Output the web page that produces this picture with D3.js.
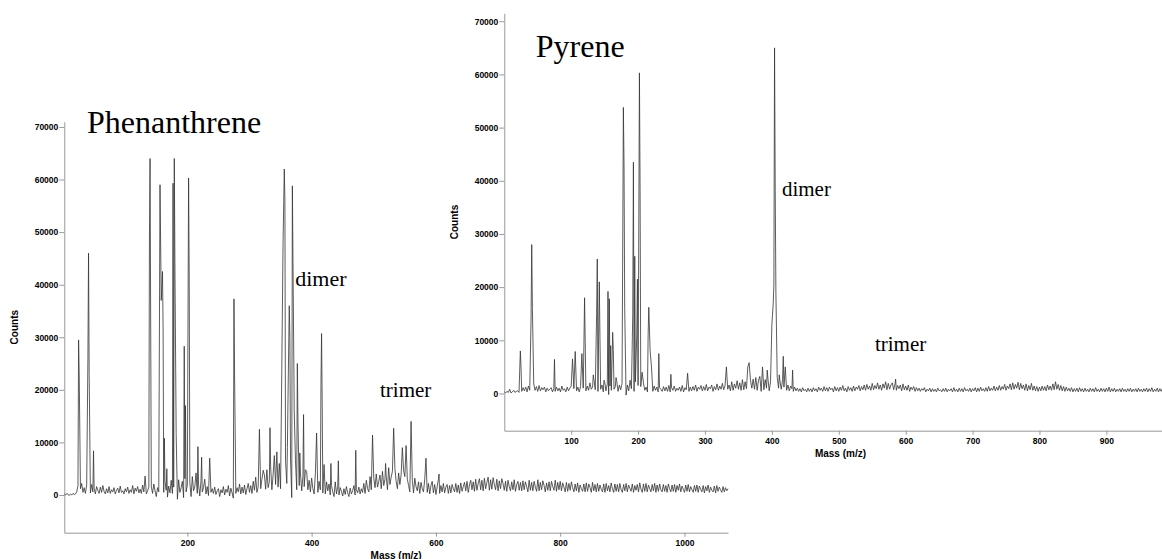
<!DOCTYPE html>
<html>
<head>
<meta charset="utf-8">
<script src="https://cdn.jsdelivr.net/npm/d3@7"></script>
<style>
  body { margin: 0; background: #fff; }
  .axis path, .axis line { stroke: #999; }
  .axis text { font-family: "Liberation Sans", Arial, sans-serif; font-size: 8.5px; font-weight: bold; fill: #000; }
  .atitle { font-family: "Liberation Sans", Arial, sans-serif; font-size: 10px; font-weight: bold; }
  .label { font-family: "Liberation Serif", "Times New Roman", serif; fill: #000; }
</style>
</head>
<body>
<div class="canva"></div>
<script>
// baseline points every 2 mass units, counts in thousands
const baseStep = 2;

// Phenanthrene, baseline starts at m/z 2
const phenStart = 2;
const phenBase = [
  0.2,0.0,0.3,0.1,-0.1,0.2,0.0,0.3,0.1,0.2,
  0.6,1.8,0.4,1.2,2.2,0.5,1.4,0.3,1.9,0.8,
  1.1,0.4,2.0,0.6,1.3,0.2,1.6,0.9,0.3,1.5,
  0.5,1.8,0.7,0.2,1.2,0.4,1.6,0.3,1.0,0.6,
  1.4,0.2,0.9,1.3,0.4,1.7,0.5,0.8,0.2,1.2,
  0.6,1.5,0.3,1.0,0.5,1.8,0.2,1.3,0.7,1.6,
  0.4,1.1,0.3,1.9,0.6,1.2,0.2,0.8,1.5,0.4,
  1.6,0.3,2.1,0.8,-0.3,1.4,0.6,2.4,-0.2,1.8,
  0.5,2.6,0.9,-0.4,1.7,0.4,2.8,0.3,1.5,0.7,
  2.2,-0.8,2.9,0.5,1.4,2.6,-0.5,3.1,0.6,1.9,
  0.2,2.4,-0.3,3.5,0.8,1.6,4.2,0.3,2.1,-0.2,
  2.8,0.6,1.4,3.0,0.2,1.6,-0.1,2.2,0.5,1.2,
  0.3,1.5,0.1,0.8,1.2,-0.3,1.0,0.4,1.6,0.0,
  1.1,0.5,1.8,-0.2,1.3,0.4,-0.6,2.0,0.3,1.4,
  0.6,2.1,0.2,1.5,0.4,1.9,0.1,1.2,2.2,0.5,
  1.8,0.3,2.6,0.9,3.4,0.5,1.6,4.5,1.2,3.0,
  0.8,3.8,1.1,4.8,1.4,2.6,5.5,1.0,3.8,7.5,
  2.0,5.2,1.5,6.0,1.2,4.4,8.2,3.0,6.5,2.2,
  9.0,2.5,7.0,-0.5,5.5,2.4,6.5,1.0,5.0,1.8,
  4.2,0.8,3.5,1.6,0.4,4.5,1.0,2.8,0.6,3.2,
  1.2,0.2,4.0,1.5,0.5,2.6,1.0,3.0,0.4,2.2,
  0.2,2.5,0.8,2.1,0.0,1.8,0.6,-0.3,2.5,0.2,
  1.6,0.0,1.4,0.7,-0.2,1.2,0.1,1.6,0.4,-0.3,
  1.3,0.2,0.8,1.8,0.0,1.0,0.4,1.5,0.2,1.2,
  0.5,2.2,0.3,2.8,1.2,0.6,3.5,1.0,2.4,3.2,
  1.4,4.0,1.5,2.6,3.8,1.2,4.5,1.8,3.0,3.6,
  1.0,5.2,2.0,3.4,4.5,1.5,5.0,2.6,1.2,4.2,
  2.0,3.8,1.0,4.6,3.5,0.8,3.0,1.8,0.6,3.2,
  2.8,0.4,3.2,1.6,0.8,2.5,0.3,2.4,1.2,0.6,
  3.0,1.4,0.5,2.2,0.2,1.8,2.6,0.4,2.0,0.1,
  1.6,3.0,0.3,1.8,0.6,2.2,0.4,1.5,2.0,0.3,
  1.8,0.4,2.0,1.2,0.6,2.2,0.5,1.9,0.3,2.3,
  0.7,1.6,2.4,0.8,2.6,0.5,1.9,2.8,1.0,2.5,
  0.7,3.0,0.9,2.2,3.1,1.0,2.8,0.8,3.2,1.2,
  2.4,3.4,0.9,2.9,1.1,3.3,2.0,1.0,3.0,0.8,
  2.7,1.2,3.1,2.2,0.9,2.6,0.7,2.8,1.6,0.8,
  2.5,1.0,2.9,0.7,2.0,2.6,0.9,2.4,0.8,2.7,
  1.0,2.5,1.6,0.6,2.8,0.9,2.4,0.8,2.6,1.5,
  0.7,2.9,0.8,2.4,1.0,2.7,1.8,0.6,2.3,0.9,
  2.5,0.8,2.6,1.6,0.9,2.8,0.7,2.4,1.0,2.6,
  0.8,2.3,1.5,0.6,2.4,0.7,2.2,0.9,2.5,1.4,
  0.6,2.1,0.8,2.3,0.5,1.9,1.2,0.7,2.1,0.6,
  2.3,0.7,2.1,1.4,0.5,2.4,0.8,2.0,0.6,2.2,
  0.7,1.9,1.1,0.6,2.1,0.5,2.2,0.8,1.8,0.6,
  2.3,1.2,0.5,2.1,0.7,2.0,0.6,2.2,1.0,0.5,
  2.0,0.8,2.2,0.6,1.9,1.3,0.7,2.1,0.5,1.8,
  0.9,2.0,0.6,2.3,1.1,0.5,2.1,0.7,2.2,0.6,
  1.9,1.2,0.6,2.0,0.8,2.2,0.5,1.9,0.7,2.1,
  1.0,0.6,2.0,0.7,1.8,0.5,2.1,1.2,0.6,1.9,
  0.7,2.0,0.5,1.8,0.9,2.1,0.6,1.7,1.1,0.5,
  1.9,0.7,2.0,0.6,1.6,1.0,0.5,1.8,0.7,1.9,
  0.5,1.7,1.1,0.6,1.8,0.4,1.6,0.8,1.9,0.5,
  1.5,0.9,0.6,1.7,0.4,1.8,0.7,1.5,1.0,0.5,
  1.6,0.6,1.4,0.8,1.2
];
// [m/z, counts in thousands]
const phenPeaks = [
  [25,29.5],[26,22.8],[40,26],[41,46],[42,23],[49,8.4],[132,3.6],[139,48.5],[140,64],
  [156,59],[158,37],[160,42.5],[161,31.8],[163,10.8],[167,5],[177,59.3],[179,64],[180,44],
  [182,11.7],[195,28.3],[197,17],[201,31],[202,60.3],[203,41.5],[217,9.2],[223,7.2],[236,7],
  [275,37.3],[276,23],[316,12.5],[322,4.7],[333,12.8],[344,8.2],[352,24],[354,48],[356,62],
  [357,56],[361,9],[362,18.6],[364,36],[365,30],[369,58.8],[370,44],[372,16],[377,25],
  [378,14],[381,8],[387,15.3],[390,4.8],[408,11.8],[415,21],[416,30.7],[417,17.4],[420,5.8],
  [431,6],[443,6.5],[471,8.5],[498,11.4],[519,6],[532,12.7],[546,9],[552,9.4],[560,14],
  [584,7],[605,4]
];

// Pyrene, baseline starts at m/z 0
const pyrStart = 0;
const pyrBase = [
  0.3,0.1,0.4,0.2,0.8,0.1,0.3,0.6,0.2,0.4,
  0.5,0.2,0.9,0.4,1.1,0.5,1.2,0.3,1.4,0.6,
  1.0,0.4,1.8,0.6,1.3,0.4,1.5,0.5,1.1,0.7,
  1.2,0.3,1.0,0.5,0.8,1.1,0.3,0.9,0.4,1.2,
  0.5,1.0,0.3,1.4,0.6,0.9,0.3,1.2,0.5,1.0,
  1.4,0.4,0.9,1.6,0.5,1.2,0.3,1.3,0.6,1.0,
  1.8,0.5,1.4,0.6,2.0,0.8,1.2,2.6,0.7,1.5,
  0.4,2.0,0.8,1.6,0.3,2.2,0.5,1.8,-0.2,1.4,
  0.6,2.0,0.8,1.3,2.4,0.4,1.6,0.7,1.9,0.3,
  2.2,-0.3,1.6,0.5,2.4,0.9,1.8,0.4,2.2,0.6,
  1.5,0.3,1.3,0.5,2.0,0.6,1.2,0.3,1.6,0.5,
  1.0,0.4,1.4,0.6,1.2,0.3,1.1,0.8,0.4,1.3,
  0.5,1.2,0.4,1.5,0.3,1.1,0.6,1.4,0.4,1.0,
  0.6,1.2,0.4,1.5,0.3,1.1,0.7,1.4,0.4,1.2,
  0.5,1.3,0.6,1.6,0.4,1.2,0.8,1.5,0.5,1.3,
  0.6,1.7,0.5,1.2,0.9,1.6,0.4,1.3,0.7,1.8,
  0.6,1.4,0.8,1.9,0.7,1.5,2.0,0.8,1.6,0.5,
  2.2,0.6,1.8,1.0,2.4,0.8,2.0,0.6,2.6,0.7,
  2.2,0.9,2.8,0.6,2.5,1.0,2.7,0.8,3.0,0.6,
  1.8,3.2,0.4,2.4,0.7,2.6,1.0,2.9,0.5,2.2,
  1.6,0.8,2.2,0.6,3.0,1.0,2.4,0.8,2.6,1.2,
  1.9,0.6,1.6,0.5,1.4,0.9,0.4,1.2,0.5,1.0,
  0.4,0.9,0.3,1.1,0.5,0.8,0.3,1.0,0.4,0.9,
  0.3,1.1,0.5,0.9,0.3,1.2,0.6,1.0,0.4,1.3,
  0.5,1.1,0.4,1.2,0.7,1.0,0.3,1.3,0.5,1.1,
  0.4,1.2,0.6,1.5,0.5,1.0,0.3,1.3,0.6,1.1,
  0.4,1.4,0.5,1.2,0.8,1.5,0.5,1.3,0.7,1.6,
  0.6,1.7,0.8,1.4,0.6,1.9,0.7,1.5,0.9,2.0,
  0.8,1.6,0.6,1.8,1.0,2.2,0.7,1.9,0.8,1.6,
  2.0,0.7,1.8,0.6,1.5,0.9,1.6,0.5,1.8,0.7,
  1.4,0.6,1.6,0.4,1.2,0.7,1.3,0.4,1.1,0.5,
  1.0,0.4,0.9,0.6,1.1,0.3,0.8,0.5,1.0,0.3,
  0.9,0.4,0.8,0.3,1.0,0.5,0.7,0.3,0.9,0.4,
  1.0,0.3,0.8,0.5,0.9,0.3,1.1,0.4,0.8,0.3,
  1.0,0.4,0.9,0.3,1.1,0.5,0.8,0.4,1.0,0.3,
  0.9,0.5,1.1,0.3,1.0,0.4,1.2,0.5,0.9,0.4,
  1.1,0.4,1.3,0.5,1.0,0.6,1.4,0.5,1.2,0.6,
  1.5,0.6,1.3,0.8,1.7,0.6,1.4,0.9,1.8,0.7,
  2.0,0.8,1.7,1.0,2.1,0.7,1.9,0.9,1.6,0.6,
  1.8,0.5,1.5,0.7,1.9,0.6,1.4,0.5,1.3,0.4,
  1.2,0.5,1.4,0.6,1.3,0.5,1.6,0.7,1.4,0.6,
  1.8,0.7,2.2,0.8,1.7,0.6,1.5,0.5,1.3,0.4,
  1.2,0.5,1.0,0.4,1.1,0.3,0.9,0.4,1.0,0.3,
  1.1,0.4,0.9,0.3,1.0,0.4,0.8,0.3,1.0,0.4,
  0.9,0.3,1.1,0.4,0.8,0.3,1.0,0.4,0.9,0.3,
  1.0,0.4,1.2,0.3,0.9,0.4,1.0,0.3,0.8,0.4,
  0.9,0.3,1.0,0.4,0.8,0.3,0.9,0.4,1.0,0.3,
  0.8,0.4,0.9,0.3,1.0,0.4,0.8,0.3,0.9,0.4,
  1.0,0.3,0.9,0.4,1.1,0.3,0.8,0.4,1.0,0.3,
  0.9,0.4,1.0,0.3,0.8,0.4,1.1,0.3,0.9,0.4,
  1.0,0.3,0.9
];
const pyrPeaks = [
  [24,8],[25,5],[40,14],[41,28],[42,16],[75,6.4],[102,6.5],[106,7.9],[116,7.5],[119,9],
  [120,18],[133,3.5],[138,15],[139,25.3],[142,21],[143,10.5],[149,2.5],[155,19.2],[157,17.8],
  [159,9],[162,11.5],[163,8],[167,3],[177,27],[178,53.8],[179,42.8],[180,16],[188,2.5],
  [191,7.5],[192,14.8],[193,43.5],[195,25.8],[198,11],[199,21.5],[201,30],[202,60.3],
  [203,38],[206,4],[215,11],[216,16.2],[218,8],[220,5],[231,7.5],[249,3.6],[274,3.8],
  [332,5],[364,5],[366,5.8],[376,3],[380,2.5],[386,5],[393,4.4],[400,13],[402,17],
  [403,20.5],[404,65],[405,38],[406,19],[411,3.5],[417,7],[420,5],[431,4.4],[585,2.7]
];

const countTicks = [0,10000,20000,30000,40000,50000,60000,70000];
const phenMassTicks = [200,400,600,800,1000];
const pyrMassTicks = [100,200,300,400,500,600,700,800,900];

//merge baseline and peaks into one sorted trace
function buildTrace(start, base, peaks) {
  const m = new Map();
  base.forEach((v, i) => m.set(start + i * baseStep, v));
  peaks.forEach(([mass, v]) => m.set(mass, v));
  return Array.from(m, ([mass, v]) => ({mass: mass, counts: v * 1000}))
              .sort((a, b) => a.mass - b.mass);
}

const svg = d3.select('.canva').append('svg')
              .attr('width', 1162)
              .attr('height', 559);

//draw one spectrum panel
function drawPanel(opts) {
  const g = svg.append('g');

  if (opts.background) {
    g.append('rect')
      .attr('x', opts.background[0]).attr('y', opts.background[1])
      .attr('width', opts.background[2]).attr('height', opts.background[3])
      .attr('fill', '#fff');
  }

  const x = d3.scaleLinear().domain(opts.xDomain).range([opts.left, opts.right]);
  const y = d3.scaleLinear().domain(opts.yDomain).range([opts.bottom, opts.top]);

  const xAxis = d3.axisBottom(x)
                  .tickValues(opts.xTicks)
                  .tickFormat(d3.format('d'))
                  .tickSizeInner(4).tickSizeOuter(0).tickPadding(3);
  const yAxis = d3.axisLeft(y)
                  .tickValues(countTicks)
                  .tickFormat(d3.format('d'))
                  .tickSizeInner(5).tickSizeOuter(0).tickPadding(1);

  g.append('g').attr('class', 'axis')
    .attr('transform', `translate(0, ${opts.bottom})`)
    .call(xAxis);
  g.append('g').attr('class', 'axis')
    .attr('transform', `translate(${opts.left}, 0)`)
    .call(yAxis);

  //axis titles
  g.append('text').attr('class', 'atitle')
    .attr('x', (opts.left + opts.right) / 2)
    .attr('y', opts.bottom + 26)
    .attr('text-anchor', 'middle')
    .text('Mass (m/z)');
  g.append('text').attr('class', 'atitle')
    .attr('transform', `translate(${opts.left - 46}, ${(opts.top + opts.bottom) / 2}) rotate(-90)`)
    .attr('text-anchor', 'middle')
    .text('Counts');

  //spectrum trace
  const line = d3.line()
                 .x(d => x(d.mass))
                 .y(d => y(d.counts));
  g.append('path')
    .datum(opts.trace)
    .attr('d', line)
    .attr('fill', 'none')
    .attr('stroke', '#333')
    .attr('stroke-width', 0.8);

  //title and annotations
  opts.labels.forEach(l => {
    g.append('text').attr('class', 'label')
      .attr('x', x(l.mass))
      .attr('y', y(l.counts))
      .style('font-size', l.size + 'px')
      .text(l.text);
  });
}

drawPanel({
  trace: buildTrace(phenStart, phenBase, phenPeaks),
  xDomain: [2, 1070], yDomain: [-7170, 71000],
  left: 64.3, right: 728, top: 121.7, bottom: 532.7,
  xTicks: phenMassTicks,
  labels: [
    {text: 'Phenanthrene', mass: 38.5, counts: 68800, size: 32},
    {text: 'dimer', mass: 373.5, counts: 39700, size: 22},
    {text: 'trimer', mass: 510, counts: 18700, size: 21}
  ]
});

drawPanel({
  trace: buildTrace(pyrStart, pyrBase, pyrPeaks),
  xDomain: [0, 1005], yDomain: [-7000, 71500],
  left: 504.3, right: 1176.6, top: 13.3, bottom: 430.7,
  xTicks: pyrMassTicks,
  background: [445, 0, 717, 469],
  labels: [
    {text: 'Pyrene', mass: 47, counts: 63300, size: 32},
    {text: 'dimer', mass: 415, counts: 37100, size: 21},
    {text: 'trimer', mass: 554, counts: 8000, size: 21}
  ]
});
</script>
</body>
</html>
